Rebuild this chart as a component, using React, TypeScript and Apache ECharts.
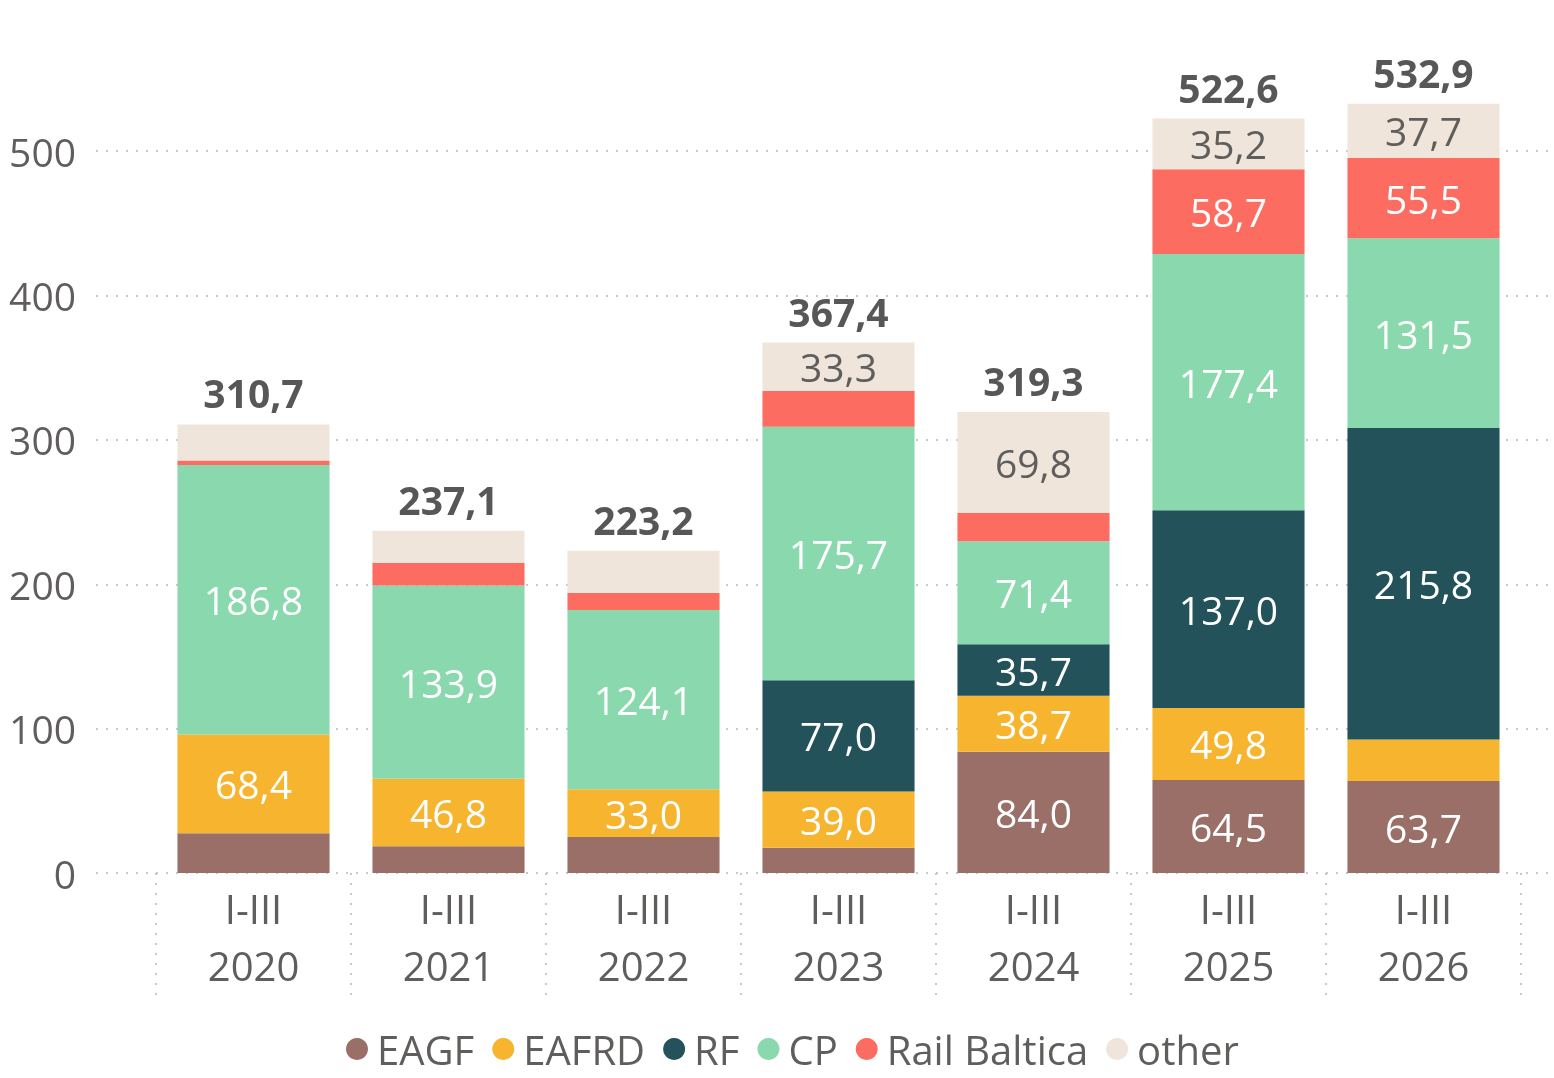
import React, { useEffect, useRef } from "react";
import * as echarts from "echarts";

const categories = ["I-III\n2020", "I-III\n2021", "I-III\n2022", "I-III\n2023", "I-III\n2024", "I-III\n2025", "I-III\n2026"];
const eagf = [27.5, 18.5, 25.0, 17.5, 84.0, 64.5, 63.7];
const eafrd = [68.4, 46.8, 33.0, 39.0, 38.7, 49.8, 28.7];
const rf = [0, 0, 0, 77.0, 35.7, 137.0, 215.8];
const cp = [186.8, 133.9, 124.1, 175.7, 71.4, 177.4, 131.5];
const railBaltica = [3.0, 15.7, 11.8, 24.9, 19.7, 58.7, 55.5];
const other = [25.0, 22.2, 29.3, 33.3, 69.8, 35.2, 37.7];
const totals = [310.7, 237.1, 223.2, 367.4, 319.3, 522.6, 532.9];
const legendNames = ["EAGF", "EAFRD", "RF", "CP", "Rail Baltica", "other"];

const FONT = "'Segoe UI', 'Open Sans', sans-serif";
const fmt = (v: number) => v.toFixed(1).replace(".", ",");

export default function App() {
  const ref = useRef<HTMLDivElement>(null);
  useEffect(() => {
    if (!ref.current) return;
    const chart = echarts.init(ref.current, undefined, { renderer: "svg" });
    const mk = (name: string, data: number[], color: string, labelColor: string) => ({
      name,
      type: "bar",
      stack: "s",
      xAxisIndex: 0,
      yAxisIndex: 0,
      barWidth: "78%",
      data,
      itemStyle: { color },
      label: {
        show: true,
        position: "inside",
        fontSize: 39,
        fontFamily: FONT,
        color: labelColor,
        formatter: (p: any) => (p.value >= 30 ? fmt(p.value) : ""),
      },
    });
    const dotted = { type: [2, 8] as any, color: "#c8c8c8", width: 2 };
    chart.setOption({
      animation: false,
      textStyle: { fontFamily: FONT },
      grid: [
        { left: 156, right: 33, top: 79, bottom: 205 },
        { left: 96, right: 0, top: 79, bottom: 205 },
      ],
      xAxis: [
        {
          type: "category",
          gridIndex: 0,
          data: categories,
          axisLine: { show: false },
          axisTick: { show: true, length: 126, interval: 0, lineStyle: dotted },
          axisLabel: { fontSize: 40, color: "#605e5c", lineHeight: 57, margin: 7, interval: 0, fontFamily: FONT },
        },
        { type: "value", gridIndex: 1, show: false, min: 0, max: 1 },
      ],
      yAxis: [
        { type: "value", gridIndex: 0, min: 0, max: 550, interval: 100, show: false },
        {
          type: "value",
          gridIndex: 1,
          min: 0,
          max: 550,
          interval: 100,
          axisLine: { show: false },
          axisTick: { show: false },
          axisLabel: { fontSize: 39, color: "#605e5c", margin: 20, showMaxLabel: false, fontFamily: FONT },
          splitLine: { show: true, showMaxLine: false, lineStyle: dotted },
        },
      ],
      legend: {
        data: legendNames,
        left: 341,
        top: 1022,
        icon: "circle",
        itemWidth: 22,
        itemHeight: 22,
        itemGap: 18,
        textStyle: { fontSize: 40, lineHeight: 44, color: "#605e5c", fontFamily: FONT, padding: [0, 0, 0, 4] },
      },
      series: [
        mk("EAGF", eagf, "#9a6f68", "#ffffff"),
        mk("EAFRD", eafrd, "#f6b42f", "#ffffff"),
        mk("RF", rf, "#23525a", "#ffffff"),
        mk("CP", cp, "#89d8ae", "#ffffff"),
        mk("Rail Baltica", railBaltica, "#fd6c60", "#ffffff"),
        mk("other", other, "#efe5da", "#605e5c"),
        {
          name: "total",
          type: "bar",
          stack: "s",
          xAxisIndex: 0,
          yAxisIndex: 0,
          barWidth: "78%",
          data: totals.map(() => 0),
          itemStyle: { color: "transparent" },
          label: {
            show: true,
            position: "top",
            distance: 12,
            fontSize: 39,
            fontWeight: "bold",
            fontFamily: FONT,
            color: "#575757",
            formatter: (p: any) => fmt(totals[p.dataIndex]),
          },
        },
      ],
    });
    return () => chart.dispose();
  }, []);
  return <div ref={ref} style={{ position: "fixed", left: 0, top: 0, width: 1554, height: 1078 }} />;
}
